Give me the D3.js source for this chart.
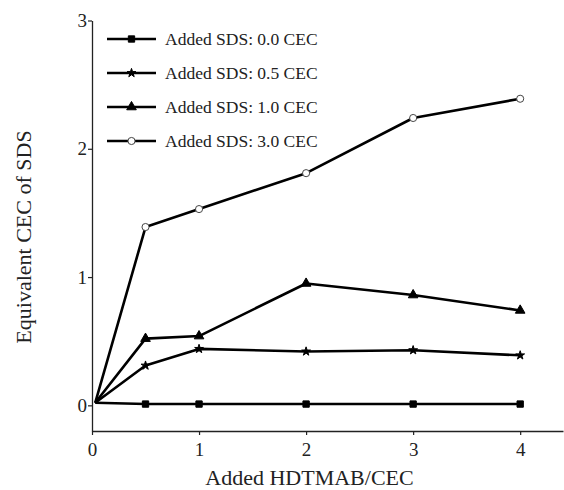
<!DOCTYPE html>
<html>
<head>
<meta charset="utf-8">
<script src="https://cdn.jsdelivr.net/npm/d3@7"></script>
<style>
  html, body { margin: 0; padding: 0; background: #fff; }
  svg { display: block; font-family: 'Liberation Serif', 'Times New Roman', serif; }
</style>
</head>
<body>
<div id="chart"></div>
<script>
// values
const hdtmab = [0.03, 0.5, 1, 2, 3, 4]
const sds00 = [0.02, 0.01, 0.01, 0.01, 0.01, 0.01]
const sds05 = [0.02, 0.31, 0.44, 0.42, 0.43, 0.39]
const sds10 = [0.02, 0.52, 0.54, 0.95, 0.86, 0.74]
const sds30 = [0.02, 1.39, 1.53, 1.81, 2.24, 2.39]
const seriesNames = ['Added SDS: 0.0 CEC', 'Added SDS: 0.5 CEC', 'Added SDS: 1.0 CEC', 'Added SDS: 3.0 CEC']
const xTicks = [0, 1, 2, 3, 4]
const yTicks = [0, 1, 2, 3]

const width = 564,
  height = 490

const svg = d3.select('#chart').append('svg')
  .attr('width', width)
  .attr('height', height)

const xScale = d3.scaleLinear()
  .domain([0, 4.4])
  .range([92, 563])
const yScale = d3.scaleLinear()
  .domain([-0.2, 3])
  .range([431, 20.5])

// axes
const xAxis = svg.append('g')
  .attr('transform', `translate(0, ${yScale(-0.2)})`)
  .call(d3.axisBottom(xScale).tickValues(xTicks).tickFormat(d3.format('d'))
    .tickSize(4).tickSizeOuter(0).tickPadding(8))
const yAxis = svg.append('g')
  .attr('transform', `translate(${xScale(0)}, 0)`)
  .call(d3.axisLeft(yScale).tickValues(yTicks).tickFormat(d3.format('d'))
    .tickSize(4).tickSizeOuter(0).tickPadding(1))
for(const ax of [xAxis, yAxis]) {
  ax.select('.domain').attr('stroke', '#222').attr('stroke-width', 1.3)
  ax.selectAll('.tick line').attr('stroke', '#222').attr('stroke-width', 1.2)
  ax.selectAll('.tick text')
    .attr('fill', '#222')
    .style('font-family', "'Liberation Serif', 'Times New Roman', serif")
    .style('font-size', '19px')
}

// axis titles
svg.append('text')
  .text('Added HDTMAB/CEC')
  .attr('x', 309.5)
  .attr('y', 485)
  .attr('fill', '#222')
  .style('text-anchor', 'middle')
  .style('font-size', '22px')
svg.append('text')
  .text('Equivalent CEC of SDS')
  .attr('transform', 'translate(31, 237) rotate(-90)')
  .attr('fill', '#222')
  .style('text-anchor', 'middle')
  .style('font-size', '22px')

// series
const markers = [
  {type: d3.symbolSquare, size: 40, fill: '#000'},
  {type: d3.symbolStar, size: 24, fill: '#000'},
  {type: d3.symbolTriangle, size: 40, fill: '#000'},
  {type: d3.symbolCircle, size: 40, fill: '#fff'}
]
const series = [sds00, sds05, sds10, sds30].map((vals, i) => {
  return {
    name: seriesNames[i],
    marker: markers[i],
    points: vals.map((v, j) => ({x: hdtmab[j], y: v}))
  }
})

const line = d3.line()
  .x(d => xScale(d.x))
  .y(d => yScale(d.y))

const graphG = svg.append('g')
for(const s of series) {
  graphG.append('path')
    .datum(s.points)
    .attr('fill', 'none')
    .attr('stroke', '#000')
    .attr('stroke-width', 2.6)
    .attr('stroke-linejoin', 'round')
    .attr('d', line)
}
for(const s of series) {
  // no marker on the shared starting point
  graphG.append('g').selectAll('.dot').data(s.points.slice(1))
    .enter().append('path')
    .attr('transform', d => `translate(${xScale(d.x)}, ${yScale(d.y)})`)
    .attr('d', d3.symbol().type(s.marker.type).size(s.marker.size))
    .attr('fill', s.marker.fill)
    .attr('stroke', s.marker.fill === '#fff' ? '#444' : '#000')
    .attr('stroke-width', 1)
}

// legend
const legendG = svg.append('g')
  .attr('transform', 'translate(107, 39)')
const legendRow = legendG.selectAll('.row').data(series)
  .enter().append('g')
  .attr('transform', (d, i) => `translate(0, ${i * 34})`)
legendRow.append('line')
  .attr('x1', 0)
  .attr('x2', 49)
  .attr('stroke', '#000')
  .attr('stroke-width', 2.6)
legendRow.append('path')
  .attr('transform', 'translate(24.5, 0)')
  .attr('d', d => d3.symbol().type(d.marker.type).size(d.marker.size)())
  .attr('fill', d => d.marker.fill)
  .attr('stroke', d => d.marker.fill === '#fff' ? '#444' : '#000')
  .attr('stroke-width', 1)
legendRow.append('text')
  .text(d => d.name)
  .attr('x', 58)
  .attr('y', 5.5)
  .attr('fill', '#222')
  .style('font-size', '17.5px')
</script>
</body>
</html>
